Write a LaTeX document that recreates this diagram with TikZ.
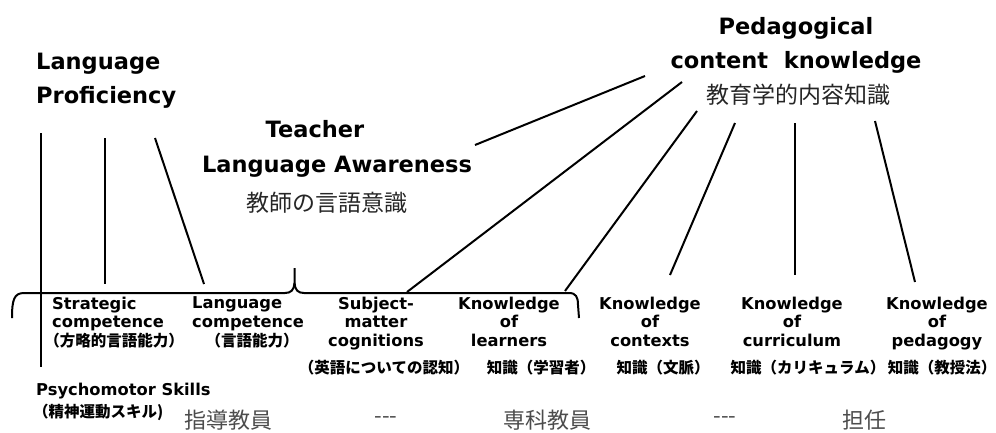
\documentclass[tikz,border=0pt]{standalone}
\usepackage{fontspec}
\setmainfont{DejaVu Sans}
\newfontfamily\jp{Noto Sans CJK JP}
\begin{document}
\begin{tikzpicture}[x=1pt,y=-1pt,
  big/.style={font=\fontsize{22.5}{34}\selectfont\bfseries, inner sep=0pt},
  lbl/.style={font=\fontsize{16.3}{18.5}\selectfont\bfseries, inner sep=0pt, anchor=north, align=center},
  jbig/.style={font=\fontsize{23}{26}\selectfont\jp, text=black!85, inner sep=0pt},
  jlow/.style={font=\fontsize{22}{25}\selectfont\jp, text=black!70, inner sep=0pt},
  jsm/.style={font=\fontsize{15.5}{18}\selectfont\jp\bfseries, inner sep=0pt},
  link/.style={line width=2pt},
]
\useasboundingbox (0,0) rectangle (996,432);

% titles
\node[big, align=left, anchor=north west] (lp) at (36,52.6) {Language\\Proficiency};
\node[big, anchor=base] (tla1) at (315,137) {Teacher};
\node[big, anchor=base] (tla2) at (337,172) {Language Awareness};
\node[jbig] (tla3) at (327,203) {教師の言語意識};
\node[big, align=center, anchor=north] (pck) at (796,16.9) {Pedagogical\\content\ \ knowledge};
\node[jbig] (pckj) at (798,95) {教育学的内容知識};

% component labels
\node[lbl, align=left, anchor=north west] (sc) at (52,296.6) {Strategic\\competence};
\node[lbl, align=left, anchor=north west] (lc) at (192,296.6) {Language\\competence};
\node[lbl] (smc) at (376,296.6) {Subject-\\matter\\cognitions};
\node[lbl] (kl) at (509,296.6) {Knowledge\\of\\learners};
\node[lbl] (kc) at (650,296.6) {Knowledge\\of\\contexts};
\node[lbl] (kcu) at (792,296.6) {Knowledge\\of\\curriculum};
\node[lbl] (kp) at (937,296.6) {Knowledge\\of\\pedagogy};

\node[jsm] (scj) at (114,341) {（方略的言語能力）};
\node[jsm] (lcj) at (252,341) {（言語能力）};
\node[jsm] (smcj) at (384,368) {（英語についての認知）};
\node[jsm] (klj) at (541,368) {知識（学習者）};
\node[jsm] (kcj) at (663,368) {知識（文脈）};
\node[jsm] (kcuj) at (808,368) {知識（カリキュラム）};
\node[jsm] (kpj) at (942,368) {知識（教授法）};

\node[lbl, anchor=base west] (ps) at (36,395) {Psychomotor Skills};
\node[jsm, anchor=west] (psj) at (33,412) {（精神運動スキル)};

% bottom row
\node[jlow] (b1) at (228,420) {指導教員};
\node[jlow] (b2) at (386,420) {-{}-{}-};
\node[jlow] (b3) at (547,420) {専科教員};
\node[jlow] (b4) at (725,420) {-{}-{}-};
\node[jlow] (b5) at (864,420) {担任};

% connector end points
\coordinate (lpA) at (41,133);   \coordinate (psA) at (41,367);
\coordinate (lpB) at (105,138);  \coordinate (scA) at (105,284);
\coordinate (lpC) at (155,138);  \coordinate (lcA) at (204,284);
\coordinate (tlaA) at (475,145); \coordinate (pckA) at (645,76);
\coordinate (pckB) at (682,82);  \coordinate (smcA) at (407,292);
\coordinate (pckC) at (697,111); \coordinate (klA) at (565,291);
\coordinate (pckD) at (735,123); \coordinate (kcA) at (670,275);
\coordinate (pckE) at (795,123); \coordinate (kcuA) at (795,275);
\coordinate (pckF) at (875,121); \coordinate (kpA) at (915,282);

\draw[link] (lpA) -- (psA);
\draw[link] (lpB) -- (scA);
\draw[link] (lpC) -- (lcA);
\draw[link] (tlaA) -- (pckA);
\draw[link] (pckB) -- (smcA);
\draw[link] (pckC) -- (klA);
\draw[link] (pckD) -- (kcA);
\draw[link] (pckE) -- (kcuA);
\draw[link] (pckF) -- (kpA);

% brace
\coordinate (brL) at (12,318);
\coordinate (brT) at (294.5,268);
\coordinate (brR) at (579,318);
\draw[link, line join=round] (brL) .. controls (12,300) and (14,293) .. (24,293)
  -- (285,293) .. controls (291,293) and (294,290) .. (294.5,283) -- (brT);
\draw[link, line join=round] (294.5,283) .. controls (295,290) and (298,293) .. (304,293)
  -- (569,293) .. controls (576,293) and (578,297) .. (578,305) -- (brR);
\end{tikzpicture}
\end{document}
